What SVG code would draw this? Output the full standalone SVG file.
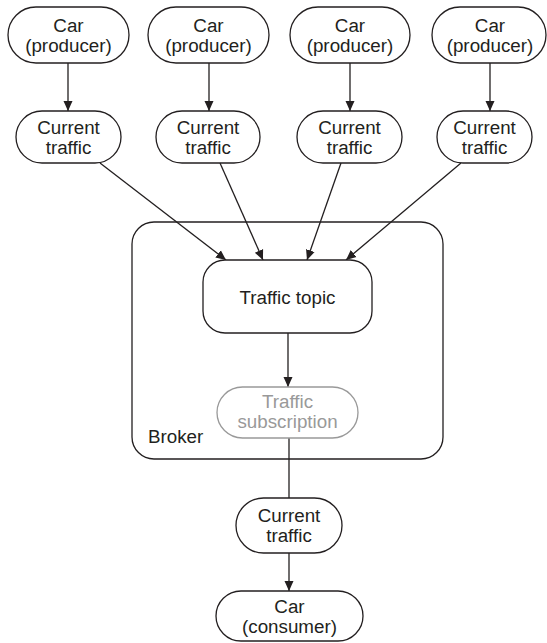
<svg xmlns="http://www.w3.org/2000/svg" width="547" height="643" viewBox="0 0 547 643">
<defs>
<marker id="ah" viewBox="0 0 10 15" refX="10" refY="7.5" markerWidth="10" markerHeight="15" markerUnits="userSpaceOnUse" orient="auto">
<path d="M0,3 L10,7.5 L0,12 Z" fill="#231f20"/>
</marker>
<style>
.n{fill:#fff;stroke:#231f20;stroke-width:1.3}
.g{fill:#fff;stroke:#999;stroke-width:1.3}
.t{font-family:"Liberation Sans",Arial,sans-serif;font-size:18.8px;fill:#231f20;text-anchor:middle}
.tg{font-family:"Liberation Sans",Arial,sans-serif;font-size:18.8px;fill:#999;text-anchor:middle}
.c{stroke:#231f20;stroke-width:1.3;fill:none}
</style>
</defs>
<rect width="547" height="643" fill="#fff"/>
<g id="broker">
<rect x="132" y="222" width="311" height="237" rx="22" class="n"/>
<text x="148" y="443" class="t" style="text-anchor:start">Broker</text>
</g>
<g id="connectors">
<line x1="68" y1="63" x2="68" y2="111" class="c" marker-end="url(#ah)"/>
<line x1="209" y1="63" x2="209" y2="111" class="c" marker-end="url(#ah)"/>
<line x1="350" y1="63" x2="350" y2="111" class="c" marker-end="url(#ah)"/>
<line x1="490" y1="63" x2="490" y2="111" class="c" marker-end="url(#ah)"/>
<line x1="100" y1="163" x2="226" y2="260" class="c" marker-end="url(#ah)"/>
<line x1="220" y1="163" x2="263" y2="260" class="c" marker-end="url(#ah)"/>
<line x1="341" y1="163" x2="307" y2="260" class="c" marker-end="url(#ah)"/>
<line x1="461" y1="163" x2="346" y2="260" class="c" marker-end="url(#ah)"/>
<line x1="288" y1="333" x2="288" y2="387" class="c" marker-end="url(#ah)"/>
<line x1="289" y1="438" x2="289" y2="498" class="c"/>
<line x1="289" y1="553" x2="289" y2="591" class="c" marker-end="url(#ah)"/>
</g>
<g id="car1"><rect x="8" y="7" width="121" height="56" rx="28" class="n"/><text x="68.5" y="32" class="t">Car</text><text x="68.5" y="52" class="t">(producer)</text></g>
<g id="car2"><rect x="148" y="7" width="121" height="56" rx="28" class="n"/><text x="208.5" y="32" class="t">Car</text><text x="208.5" y="52" class="t">(producer)</text></g>
<g id="car3"><rect x="290" y="7" width="120" height="56" rx="28" class="n"/><text x="350" y="32" class="t">Car</text><text x="350" y="52" class="t">(producer)</text></g>
<g id="car4"><rect x="432" y="7" width="114" height="56" rx="28" class="n"/><text x="490" y="32" class="t">Car</text><text x="490" y="52" class="t">(producer)</text></g>
<g id="ct1"><rect x="16" y="111" width="105" height="52" rx="26" class="n"/><text x="68.5" y="134" class="t">Current</text><text x="68.5" y="154" class="t">traffic</text></g>
<g id="ct2"><rect x="156" y="111" width="104" height="52" rx="26" class="n"/><text x="208" y="134" class="t">Current</text><text x="208" y="154" class="t">traffic</text></g>
<g id="ct3"><rect x="297" y="111" width="105" height="52" rx="26" class="n"/><text x="349.5" y="134" class="t">Current</text><text x="349.5" y="154" class="t">traffic</text></g>
<g id="ct4"><rect x="437" y="111" width="95" height="52" rx="26" class="n"/><text x="484.5" y="134" class="t">Current</text><text x="484.5" y="154" class="t">traffic</text></g>
<g id="topic"><rect x="203" y="260" width="169" height="73" rx="22" class="n"/><text x="287.5" y="304" class="t">Traffic topic</text></g>
<g id="subscription"><rect x="217" y="387" width="141" height="51" rx="25.5" class="g"/><text x="287.5" y="408" class="tg">Traffic</text><text x="287.5" y="428" class="tg">subscription</text></g>
<g id="ct5"><rect x="236" y="498" width="106" height="55" rx="27.5" class="n"/><text x="289" y="522" class="t">Current</text><text x="289" y="542" class="t">traffic</text></g>
<g id="consumer"><rect x="216" y="591" width="147" height="50" rx="25" class="n"/><text x="289.5" y="613" class="t">Car</text><text x="289.5" y="633" class="t">(consumer)</text></g>
</svg>
